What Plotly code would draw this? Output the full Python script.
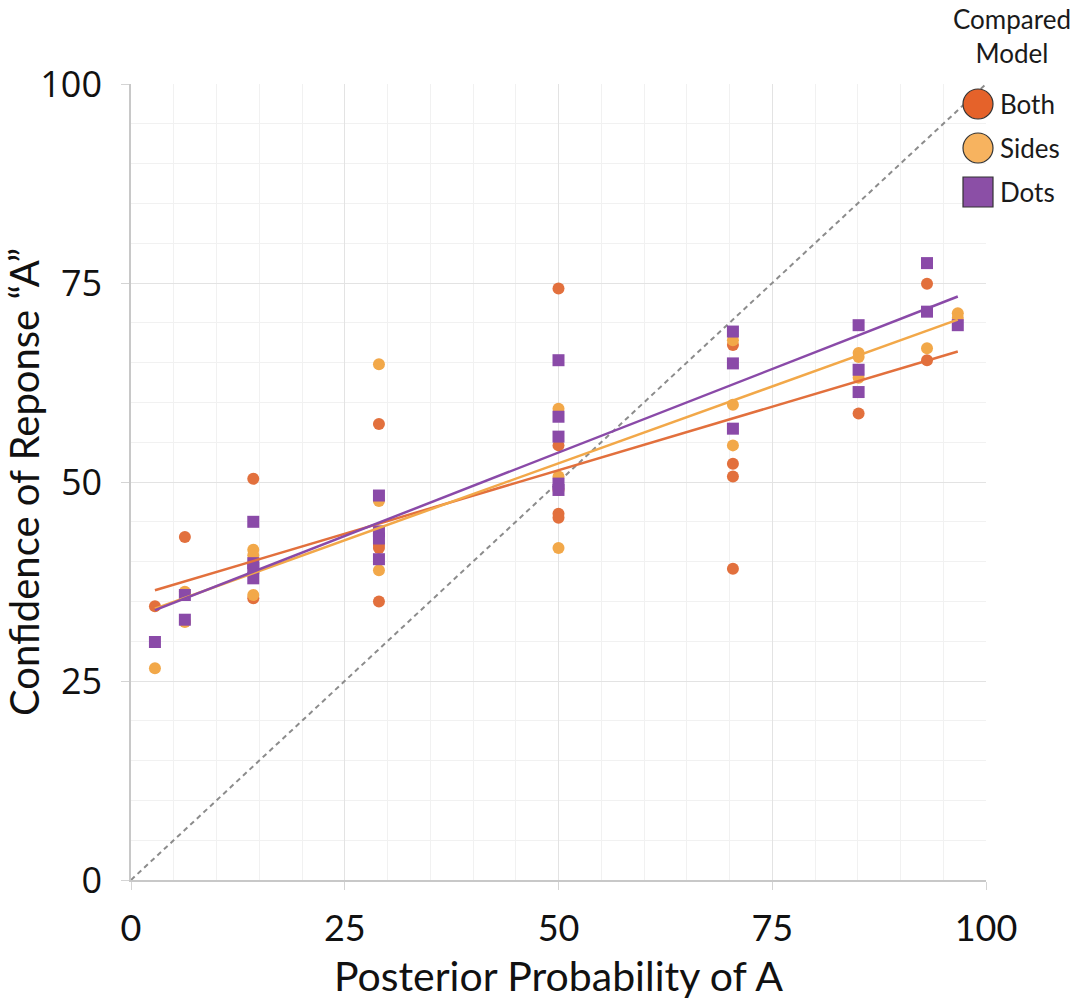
import plotly.graph_objects as go

# Posterior probability columns (percent)
x_both = [2.8, 6.3, 14.3, 14.3, 29.0, 29.0, 29.0, 29.0, 50.0, 50.0, 50.0, 50.0, 50.0,
          70.4, 70.4, 70.4, 70.4, 85.1, 93.1, 93.1]
y_both = [34.4, 43.1, 50.4, 35.4, 57.3, 42.1, 41.7, 35.0, 74.3, 54.6, 49.0, 46.0, 45.5,
          67.2, 52.3, 50.7, 39.1, 58.6, 74.9, 65.3]

x_sides = [2.8, 6.3, 6.3, 14.3, 14.3, 14.3, 29.0, 29.0, 29.0, 50.0, 50.0, 50.0,
           70.4, 70.4, 70.4, 85.1, 85.1, 85.1, 93.1, 96.7, 96.7]
y_sides = [26.6, 36.2, 32.4, 41.5, 40.8, 35.8, 64.8, 47.6, 38.9, 59.2, 50.7, 41.7,
           67.8, 59.7, 54.6, 66.2, 65.7, 63.1, 66.8, 71.2, 70.6]

x_dots = [2.8, 6.3, 6.3, 14.3, 14.3, 14.3, 14.3, 29.0, 29.0, 29.0, 29.0,
          50.0, 50.0, 50.0, 50.0, 50.0, 70.4, 70.4, 70.4, 85.1, 85.1, 85.1,
          93.1, 93.1, 96.7]
y_dots = [29.9, 35.8, 32.7, 45.0, 39.8, 39.2, 37.9, 48.3, 43.8, 42.9, 40.3,
          65.3, 58.2, 55.7, 49.8, 49.0, 68.9, 64.9, 56.7, 69.7, 64.1, 61.3,
          77.5, 71.4, 69.7]

# Linear trend endpoints for each model
fit_x = [2.8, 96.7]
fit_both = [36.4, 66.4]
fit_sides = [34.1, 70.4]
fit_dots = [33.9, 73.3]

# Identity reference
diag = [0, 100]

models = ["Both", "Sides", "Dots"]
point_colors = ["#E2703D", "#F2A849", "#8A4AA8"]
legend_fill = ["#E5622A", "#F7B35F", "#8B4FA6"]

fig = go.Figure()

fig.add_trace(go.Scatter(x=diag, y=diag, mode="lines",
                         line=dict(color="#8c8c8c", width=2, dash="5px,4px"),
                         showlegend=False, hoverinfo="skip"))

for name, xs, ys, col, sym, sz in [
    ("Both", x_both, y_both, point_colors[0], "circle", 12),
    ("Sides", x_sides, y_sides, point_colors[1], "circle", 12),
    ("Dots", x_dots, y_dots, point_colors[2], "square", 12),
]:
    fig.add_trace(go.Scatter(x=xs, y=ys, mode="markers", name=name,
                             marker=dict(color=col, symbol=sym, size=sz, line=dict(width=0)),
                             showlegend=False))

for name, ys, col in [("Both", fit_both, point_colors[0]),
                      ("Sides", fit_sides, point_colors[1]),
                      ("Dots", fit_dots, point_colors[2])]:
    fig.add_trace(go.Scatter(x=fit_x, y=ys, mode="lines", name=name + " fit",
                             line=dict(color=col, width=2.5), showlegend=False))

# Hand-built legend with large symbols
L, T, W, H = 131, 84, 855, 796
shapes = []
annotations = []
legend_rows = [104, 148, 192]
for i, (name, cy) in enumerate(zip(models, legend_rows)):
    shapes.append(dict(
        type="rect" if name == "Dots" else "circle",
        xref="paper", yref="paper",
        xsizemode="pixel", ysizemode="pixel",
        xanchor=(978 - L) / W, yanchor=(T + H - cy) / H,
        x0=-15, x1=15, y0=-15, y1=15,
        fillcolor=legend_fill[i], line=dict(color="#333333", width=1.2),
    ))
    annotations.append(dict(
        text=name, xref="paper", yref="paper",
        x=(998 - L) / W, y=(T + H - cy) / H,
        xanchor="left", yanchor="middle", showarrow=False,
        font=dict(family="Lato", size=26, color="#1a1a1a"),
    ))
annotations.append(dict(
    text="Compared<br>Model", xref="paper", yref="paper",
    x=(1012 - L) / W, y=(T + H - 36) / H,
    xanchor="center", yanchor="middle", showarrow=False, align="center",
    font=dict(family="Lato", size=26, color="#1a1a1a"),
))

fig.update_layout(
    width=1077, height=1004,
    margin=dict(l=L, r=1077 - L - W, t=T, b=1004 - T - H, autoexpand=False),
    paper_bgcolor="white", plot_bgcolor="white",
    shapes=shapes, annotations=annotations,
    xaxis=dict(
        range=[0, 100], tickvals=[0, 25, 50, 75, 100],
        showline=True, linecolor="#c8c8c8", linewidth=1.5,
        showgrid=True, gridcolor="#e3e3e3", gridwidth=1.2,
        minor=dict(dtick=5, showgrid=True, gridcolor="#f1f1f1", gridwidth=1),
        ticks="outside", ticklen=8, tickcolor="#d4d4d4", ticklabelstandoff=8,
        tickfont=dict(family="Lato", size=36, color="#111111"),
        zeroline=False,
        title=dict(text="Posterior Probability of A", standoff=14,
                   font=dict(family="Lato", size=41, color="#111111")),
    ),
    yaxis=dict(
        range=[0, 100], tickvals=[0, 25, 50, 75, 100],
        showline=True, linecolor="#c8c8c8", linewidth=1.5,
        showgrid=True, gridcolor="#e3e3e3", gridwidth=1.2,
        minor=dict(dtick=5, showgrid=True, gridcolor="#f1f1f1", gridwidth=1),
        ticks="outside", ticklen=8, tickcolor="#d4d4d4", ticklabelstandoff=12,
        tickfont=dict(family="Open Sans", size=36, color="#111111"),
        zeroline=False,
        title=dict(text="Confidence of Reponse \u201cA\u201d", standoff=6,
                   font=dict(family="Lato", size=40, color="#111111")),
    ),
)

fig.write_html("out.html")
